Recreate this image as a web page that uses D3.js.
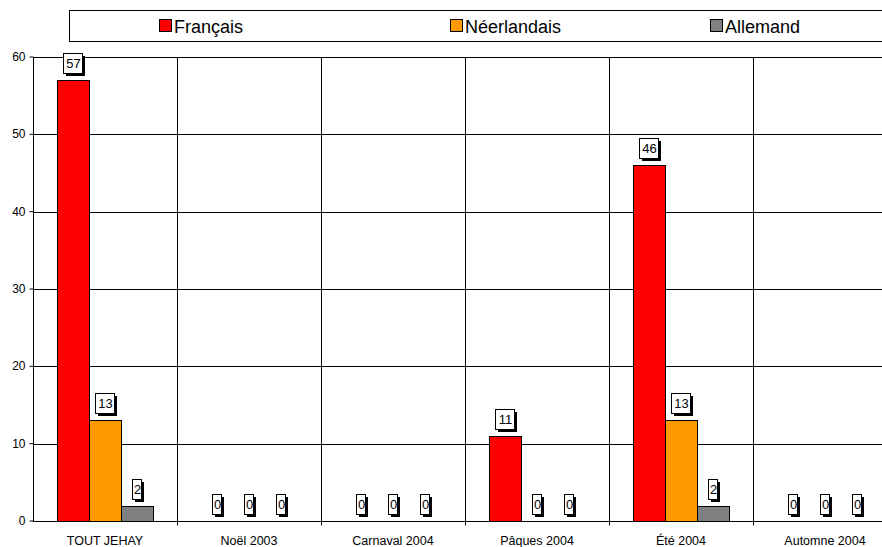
<!DOCTYPE html>
<html>
<head>
<meta charset="utf-8">
<script src="https://d3js.org/d3.v7.min.js"></script>
<style>
  body { margin: 0; background: #fff; }
  svg { display: block; font-family: "Liberation Sans", Arial, sans-serif; }
</style>
</head>
<body>
<script>
// chart data
const categories = ['TOUT JEHAY', 'Noël 2003', 'Carnaval 2004', 'Pâques 2004', 'Été 2004', 'Automne 2004'];
const seriesNames = ['Français', 'Néerlandais', 'Allemand'];
const francais = [57, 0, 0, 11, 46, 0];
const neerlandais = [13, 0, 0, 0, 13, 0];
const allemand = [2, 0, 0, 0, 2, 0];
const yTicks = [0, 10, 20, 30, 40, 50, 60];
const colors = ['#ff0000', '#ff9900', '#808080'];

const W = 882, H = 547;
const plotLeft = 33, plotTop = 57, plotBottom = 521, plotRight = 897;

const svg = d3.select('body').append('svg')
  .attr('width', W)
  .attr('height', H);

const x = d3.scaleBand().domain(categories).range([plotLeft, plotRight]).paddingInner(0).paddingOuter(0);
const xs = d3.scaleBand().domain(seriesNames).range([0, x.bandwidth()]).paddingInner(0).paddingOuter(0.75);
const y = d3.scaleLinear().domain([0, 60]).range([plotBottom, plotTop]);

// gridlines
svg.append('g').selectAll('line')
  .data(yTicks.filter(d => d > 0))
  .join('line')
  .attr('x1', plotLeft).attr('x2', W)
  .attr('y1', d => Math.round(y(d)) + 0.5).attr('y2', d => Math.round(y(d)) + 0.5)
  .attr('stroke', '#000').attr('stroke-width', 1);

svg.append('g').selectAll('line')
  .data(categories.slice(1))
  .join('line')
  .attr('x1', d => Math.round(x(d)) + 0.5).attr('x2', d => Math.round(x(d)) + 0.5)
  .attr('y1', plotTop).attr('y2', plotBottom)
  .attr('stroke', '#000').attr('stroke-width', 1);

// axes
const yAxis = svg.append('g')
  .attr('transform', `translate(${plotLeft + 0.5},0)`)
  .call(d3.axisLeft(y).tickValues(yTicks).tickSize(4).tickPadding(4).offset(0));
yAxis.select('.domain').attr('stroke', '#000').attr('d', `M0,${plotTop}V${plotBottom}`);
yAxis.selectAll('.tick line').attr('stroke', '#000');
yAxis.selectAll('text').attr('font-size', 12).attr('fill', '#000').attr('font-family', '"Liberation Sans", Arial, sans-serif');

const xAxis = svg.append('g')
  .attr('transform', `translate(0,${plotBottom + 0.5})`);
xAxis.append('line')
  .attr('x1', plotLeft).attr('x2', W).attr('y1', 0).attr('y2', 0)
  .attr('stroke', '#000');
xAxis.selectAll('line.tick')
  .data(categories.slice(1))
  .join('line')
  .attr('class', 'tick')
  .attr('x1', d => Math.round(x(d)) + 0.5).attr('x2', d => Math.round(x(d)) + 0.5)
  .attr('y1', 0).attr('y2', 4)
  .attr('stroke', '#000');
xAxis.selectAll('text')
  .data(categories)
  .join('text')
  .attr('x', d => x(d) + x.bandwidth() / 2)
  .attr('y', 23)
  .attr('text-anchor', 'middle')
  .attr('font-size', 12.5)
  .text(d => d);

// bars
const series = [francais, neerlandais, allemand];
const rows = [];
series.forEach((vals, si) => {
  vals.forEach((v, ci) => rows.push({ cat: categories[ci], s: seriesNames[si], v: v, color: colors[si] }));
});

svg.append('g').selectAll('rect')
  .data(rows.filter(d => d.v > 0))
  .join('rect')
  .attr('x', d => Math.round(x(d.cat) + xs(d.s)) + 0.5)
  .attr('y', d => Math.round(y(d.v)) + 0.5)
  .attr('width', Math.round(xs.bandwidth()))
  .attr('height', d => Math.round(y(0)) - Math.round(y(d.v)))
  .attr('fill', d => d.color)
  .attr('stroke', '#000').attr('stroke-width', 1);

// value labels with shadow
const lab = svg.append('g').selectAll('g')
  .data(rows)
  .join('g')
  .attr('transform', d => `translate(${Math.round(x(d.cat) + xs(d.s) + xs.bandwidth() / 2)},${Math.round(y(d.v)) - 7})`);

lab.each(function(d) {
  const g = d3.select(this);
  const w = String(d.v).length > 1 ? 19 : 9;
  const h = 20;
  g.append('rect')
    .attr('x', -Math.round(w / 2) + 3).attr('y', -h + 3)
    .attr('width', w).attr('height', h)
    .attr('fill', '#000');
  g.append('rect')
    .attr('x', -Math.round(w / 2) + 0.5).attr('y', -h + 0.5)
    .attr('width', w).attr('height', h)
    .attr('fill', '#fff').attr('stroke', '#000').attr('stroke-width', 1);
  g.append('text')
    .attr('x', 0.5).attr('y', -5)
    .attr('text-anchor', 'middle')
    .attr('font-size', 13)
    .text(d.v);
});

// legend
const legend = svg.append('g');
legend.append('rect')
  .attr('x', 69.5).attr('y', 10.5)
  .attr('width', 900).attr('height', 31)
  .attr('fill', '#fff').attr('stroke', '#000');

const legendX = [159, 450, 710];
const li = legend.selectAll('g.item')
  .data(seriesNames)
  .join('g')
  .attr('class', 'item')
  .attr('transform', (d, i) => `translate(${legendX[i]},26)`);
li.append('rect')
  .attr('x', 0.5).attr('y', -6.5)
  .attr('width', 12).attr('height', 12)
  .attr('fill', (d, i) => colors[i]).attr('stroke', '#000');
li.append('text')
  .attr('x', 15).attr('y', 6.5)
  .attr('font-size', 18)
  .text(d => d);
</script>
</body>
</html>
